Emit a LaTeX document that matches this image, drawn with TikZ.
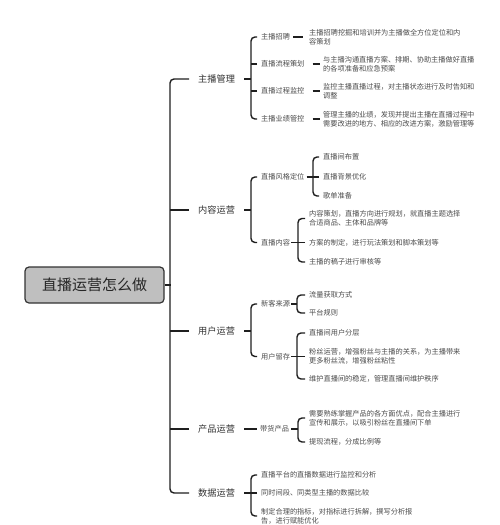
\documentclass[tikz,border=0pt]{standalone}
\usepackage{fontspec}
\setmainfont{Noto Sans CJK SC}
\usetikzlibrary{calc}
\begin{document}
\begin{tikzpicture}[x=1pt,y=-1pt,
  ln/.style={draw=black!88, line width=1.4pt},
  brc/.style={ln, rounded corners=4pt},
  rootbox/.style={draw=black!80, fill=black!25, line width=1.2pt, rounded corners=4pt,
    minimum width=139pt, minimum height=36pt, inner sep=0pt,
    font=\fontsize{15}{18}\selectfont, text=black!85},
  lone/.style={anchor=west, inner sep=0pt, font=\fontsize{9.2}{11}\selectfont, text=black!80},
  ltwo/.style={anchor=west, inner sep=0pt, font=\fontsize{7.2}{9.3}\selectfont, text=black!70, align=left},
]
\useasboundingbox (0,0) rectangle (500,525);
\fill[white] (0,0) rectangle (500,525);

% root and level 1
\node[rootbox] (root) at (94.5,285) {直播运营怎么做};
\node[lone] (m1) at (198,79) {主播管理};
\node[lone] (m2) at (198,210) {内容运营};
\node[lone] (m3) at (198,331) {用户运营};
\node[lone] (m4) at (198,429) {产品运营};
\node[lone] (m5) at (198,493) {数据运营};

\draw[ln] (root.east) -- ++(6.5,0);
\draw[brc] ([xshift=-9]m1.west) -- ++(-19,0) |- ([xshift=-9]m5.west);
\foreach \m in {m2,m3,m4} \draw[ln] ([xshift=-9]\m.west) -- ++(-19,0);

% ---------- 主播管理
\node[ltwo] (a1) at (261,37) {主播招聘};
\node[ltwo] (a2) at (261,64) {直播流程策划};
\node[ltwo] (a3) at (261,91) {直播过程监控};
\node[ltwo] (a4) at (261,119) {主播业绩管控};
\coordinate (ba) at ([xshift=-10]a1.west);
\draw[ln] ([xshift=9]m1.east) -- (m1.east -| ba);
\draw[brc] ([xshift=-4]a1.west) -- ++(-6,0) |- ([xshift=-4]a4.west);
\foreach \m in {a2,a3} \draw[ln] ([xshift=-4]\m.west) -- ++(-6,0);

\node[ltwo] (a1t) at (309,37) {主播招聘挖掘和培训并为主播做全方位定位和内\\容策划};
\node[ltwo] (a2t) at (323,64) {与主播沟通直播方案、排期、协助主播做好直播\\的各项准备和应急预案};
\node[ltwo] (a3t) at (323,91) {监控主播直播过程，对主播状态进行及时告知和\\调整};
\node[ltwo] (a4t) at (323,119) {管理主播的业绩，发现并提出主播在直播过程中\\需要改进的地方、相应的改进方案，激励管理等};
\draw[ln] ([xshift=3]a1.east) -- ([xshift=-6]a1t.west);
\foreach \m in {a2,a3,a4} \draw[ln] ([xshift=8]\m.east) -- ([xshift=-3]\m t.west);

% ---------- 内容运营
\node[ltwo] (b1) at (261,177) {直播风格定位};
\node[ltwo] (b2) at (261,242.5) {直播内容};
\coordinate (bb) at ([xshift=-10]b1.west);
\draw[ln] ([xshift=9]m2.east) -- (m2.east -| bb);
\draw[brc] ([xshift=-4]b1.west) -- ++(-6,0) |- ([xshift=-4]b2.west);

\node[ltwo] (b11) at (323,157) {直播间布置};
\node[ltwo] (b12) at (323,177) {直播背景优化};
\node[ltwo] (b13) at (323,196) {歌单准备};
\coordinate (bb1) at ([xshift=-10]b11.west);
\draw[ln] ([xshift=2]b1.east) -- (b1.east -| bb1);
\draw[brc] ([xshift=-4]b11.west) -- ++(-6,0) |- ([xshift=-4]b13.west);
\draw[ln] ([xshift=-4]b12.west) -- ++(-6,0);

\node[ltwo] (b21) at (309,218.5) {内容策划，直播方向进行规划，就直播主题选择\\合适商品、主体和品牌等};
\node[ltwo] (b22) at (309,242.5) {方案的制定，进行玩法策划和脚本策划等};
\node[ltwo] (b23) at (309,262) {主播的稿子进行审核等};
\coordinate (bb2) at ([xshift=-11]b21.west);
\draw[ln] ([xshift=1]b2.east) -- (b2.east -| bb2);
\draw[brc] ([xshift=-4]b21.west) -- ++(-7,0) |- ([xshift=-4]b23.west);
\draw[ln] ([xshift=-4]b22.west) -- ++(-7,0);

% ---------- 用户运营
\node[ltwo] (c1) at (261,304) {新客来源};
\node[ltwo] (c2) at (261,356.5) {用户留存};
\coordinate (bc) at ([xshift=-10]c1.west);
\draw[ln] ([xshift=9]m3.east) -- (m3.east -| bc);
\draw[brc] ([xshift=-4]c1.west) -- ++(-6,0) |- ([xshift=-4]c2.west);

\node[ltwo] (c11) at (309,295) {流量获取方式};
\node[ltwo] (c12) at (309,313) {平台规则};
\coordinate (bc1) at ([xshift=-12]c11.west);
\draw[ln] ([xshift=1]c1.east) -- (c1.east -| bc1);
\draw[brc] ([xshift=-4]c11.west) -- ++(-8,0) |- ([xshift=-4]c12.west);

\node[ltwo] (c21) at (309,333) {直播间用户分层};
\node[ltwo] (c22) at (309,356.5) {粉丝运营，增强粉丝与主播的关系，为主播带来\\更多粉丝流，增强粉丝粘性};
\node[ltwo] (c23) at (309,379) {维护直播间的稳定，管理直播间维护秩序};
\coordinate (bc2) at ([xshift=-12]c21.west);
\draw[ln] ([xshift=1]c2.east) -- (c2.east -| bc2);
\draw[brc] ([xshift=-4]c21.west) -- ++(-8,0) |- ([xshift=-4]c23.west);
\draw[ln] ([xshift=-4]c22.west) -- ++(-8,0);

% ---------- 产品运营
\node[ltwo] (d1) at (260,429) {带货产品};
\draw[ln] ([xshift=9]m4.east) -- ([xshift=-3]d1.west);
\node[ltwo] (d11) at (309,418) {需要熟练掌握产品的各方面优点，配合主播进行\\宣传和展示，以吸引粉丝在直播间下单};
\node[ltwo] (d12) at (309,442) {提现流程，分成比例等};
\coordinate (bd1) at ([xshift=-11]d11.west);
\draw[ln] ([xshift=2]d1.east) -- (d1.east -| bd1);
\draw[brc] ([xshift=-4]d11.west) -- ++(-7,0) |- ([xshift=-4]d12.west);

% ---------- 数据运营
\node[ltwo] (e1) at (261,475) {直播平台的直播数据进行监控和分析};
\node[ltwo] (e2) at (261,493) {同时间段、同类型主播的数据比较};
\node[ltwo] (e3) at (261,516) {制定合理的指标，对指标进行拆解，撰写分析报\\告，进行赋能优化};
\coordinate (be) at ([xshift=-10]e1.west);
\draw[ln] ([xshift=9]m5.east) -- (m5.east -| be);
\draw[brc] ([xshift=-4]e1.west) -- ++(-6,0) |- ([xshift=-4]e3.west);
\draw[ln] ([xshift=-4]e2.west) -- ++(-6,0);
\end{tikzpicture}
\end{document}
